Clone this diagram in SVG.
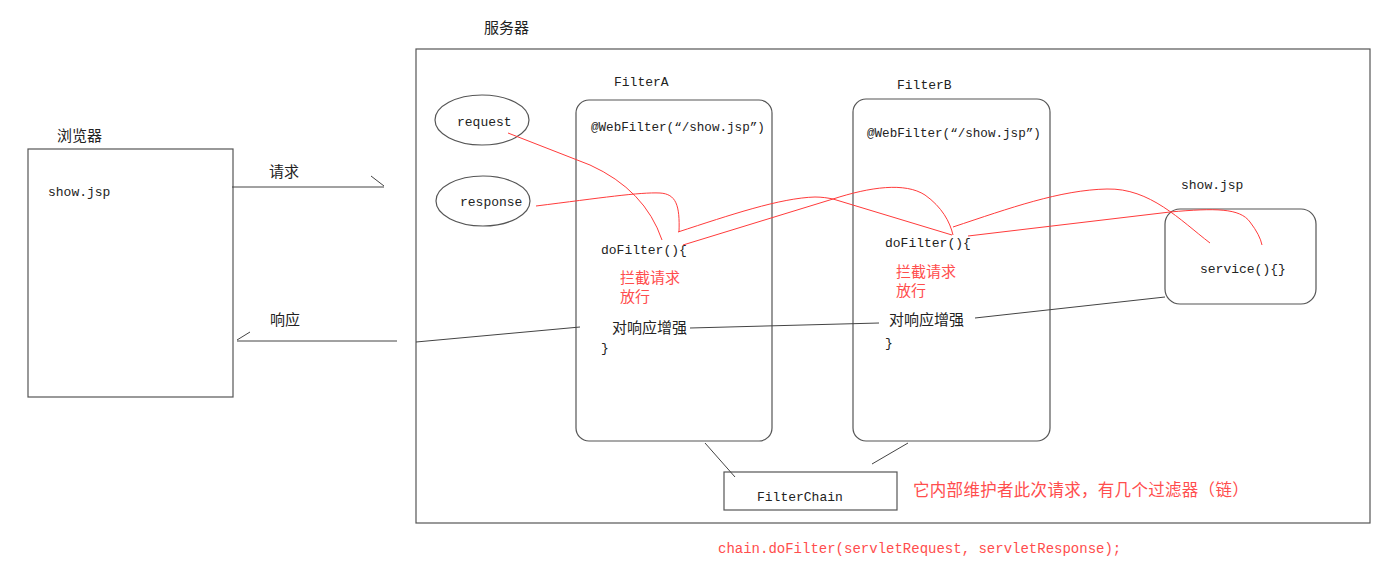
<svg xmlns="http://www.w3.org/2000/svg" width="1383" height="570" viewBox="0 0 1383 570">
<style>
.box{fill:none;stroke:#555;stroke-width:1.2}
.ln{fill:none;stroke:#444;stroke-width:1}
.red{fill:none;stroke:#ff3b3b;stroke-width:1}
.mono{font-family:"Liberation Mono","DejaVu Sans Mono",monospace;font-size:13px;fill:#222}
.cn{font-family:"Noto Sans CJK SC","Noto Sans",sans-serif;font-size:15px;fill:#222}
.cnr{font-family:"Noto Sans CJK SC","Noto Sans",sans-serif;font-size:15px;fill:#ff4d4d}
.monor{font-family:"Liberation Mono","DejaVu Sans Mono",monospace;font-size:14px;fill:#ff4d4d}
</style>
<rect width="1383" height="570" fill="#fff"/>

<g id="server">
<rect class="box" x="416" y="49" width="954" height="474"/>
<text class="cn" x="484" y="33">服务器</text>
</g>

<g id="browser">
<rect class="box" x="28" y="149" width="205" height="248"/>
<text class="cn" x="57" y="141">浏览器</text>
<text class="mono" x="48" y="196">show.jsp</text>
</g>

<g id="request">
<ellipse class="box" cx="482" cy="120" rx="47" ry="25"/>
<text class="mono" x="457" y="126">request</text>
</g>

<g id="response">
<ellipse class="box" cx="483" cy="201" rx="47" ry="25"/>
<text class="mono" x="460" y="206">response</text>
</g>

<g id="filterA">
<rect class="box" x="576" y="100" width="196" height="341" rx="13"/>
<text class="mono" x="614" y="86">FilterA</text>
<text class="mono" x="591" y="131" style="font-size:12.6px">@WebFilter(“/show.jsp”)</text>
<text class="mono" x="601" y="254">doFilter(){</text>
<text class="cnr" x="620" y="283">拦截请求</text>
<text class="cnr" x="620" y="302">放行</text>
<text class="cn" x="612" y="333">对响应增强</text>
<text class="mono" x="601" y="352">}</text>
</g>

<g id="filterB">
<rect class="box" x="853" y="99" width="197" height="342" rx="13"/>
<text class="mono" x="897" y="89">FilterB</text>
<text class="mono" x="867" y="137" style="font-size:12.6px">@WebFilter(“/show.jsp”)</text>
<text class="mono" x="885" y="247">doFilter(){</text>
<text class="cnr" x="896" y="277">拦截请求</text>
<text class="cnr" x="896" y="296">放行</text>
<text class="cn" x="889" y="325">对响应增强</text>
<text class="mono" x="885" y="347">}</text>
</g>

<g id="showjsp">
<rect class="box" x="1165" y="209" width="151" height="95" rx="15"/>
<text class="mono" x="1181" y="189">show.jsp</text>
<text class="mono" x="1200" y="273">service(){}</text>
</g>

<g id="filterChain">
<rect class="box" x="724" y="472" width="173" height="38"/>
<text class="mono" x="757" y="501">FilterChain</text>
</g>

<g id="notes">
<text class="cnr" x="913" y="496" style="font-size:16.5px;letter-spacing:0.3px">它内部维护者此次请求，有几个过滤器（链）</text>
<text class="monor" x="718" y="553">chain.doFilter(servletRequest, servletResponse);</text>
</g>

<g id="connectors">
<line class="ln" x1="232" y1="187" x2="384" y2="187"/>
<line class="ln" x1="371" y1="176" x2="384" y2="186"/>
<text class="cn" x="269" y="177">请求</text>
<line class="ln" x1="237" y1="341" x2="397" y2="341"/>
<line class="ln" x1="237" y1="340" x2="250" y2="332"/>
<text class="cn" x="270" y="325">响应</text>
<line class="ln" x1="416" y1="342" x2="580" y2="327"/>
<line class="ln" x1="690" y1="328" x2="879" y2="323"/>
<line class="ln" x1="975" y1="318" x2="1165" y2="297"/>
<line class="ln" x1="705" y1="443" x2="735" y2="477"/>
<line class="ln" x1="908" y1="443" x2="872" y2="464"/>

<path class="red" d="M508,133 L590,165 Q645,190 662,240"/>
<path class="red" d="M536,206 C600,198 640,192 660,193 C676,194 680,205 679,232"/>
<path class="red" d="M678,232 C730,215 780,198 815,197 C822,197 828,198 833,199 L952,235"/>
<path class="red" d="M683,245 L833,199 C870,187 905,182 925,195 C942,207 950,222 953,235"/>
<path class="red" d="M953,227 C1010,208 1060,190 1107,189 C1150,188 1180,220 1210,243"/>
<path class="red" d="M968,236 L1170,212 C1215,208 1240,208 1250,222 Q1260,235 1262,245"/>
</g>
</svg>
